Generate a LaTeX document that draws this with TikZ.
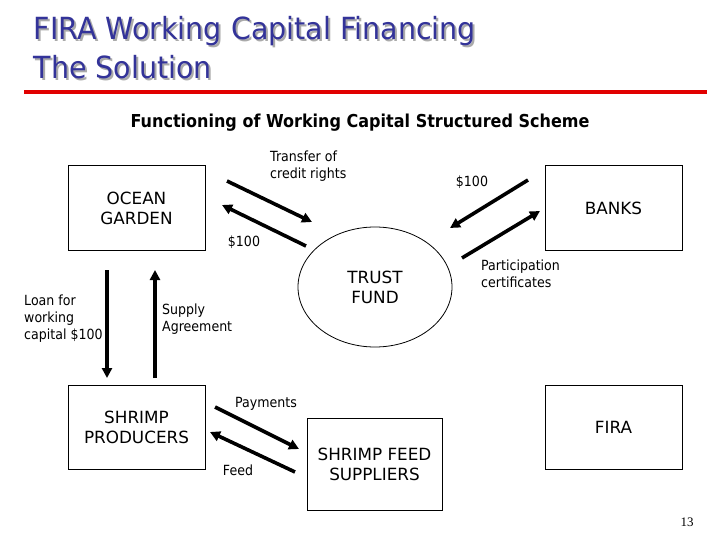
\documentclass[tikz,border=0pt]{standalone}
\usepackage{fontspec}
\setmainfont{DejaVu Sans}[FakeStretch=0.9]
\newfontfamily\boxfont{DejaVu Sans}
\newfontfamily\titlefont{DejaVu Sans}[FakeStretch=0.935]
\newfontfamily\serifnum{Liberation Serif}
\usetikzlibrary{shapes.geometric,arrows.meta}
\definecolor{titleblue}{RGB}{51,51,153}
\definecolor{shadowgray}{RGB}{170,170,170}
\definecolor{rulered}{RGB}{225,0,0}
\newcommand{\shadowtext}[1]{\makebox[0pt][l]{\hspace{2pt}\raisebox{-1.5pt}{\textcolor{shadowgray}{#1}}}\textcolor{titleblue}{#1}}
\tikzset{
  box/.style={draw=black, line width=1pt, minimum width=137pt, minimum height=84pt, align=center, inner sep=0pt, font=\boxfont\fontsize{16.8}{20}\selectfont},
  lbl/.style={align=left, inner sep=0pt, font=\fontsize{14}{17}\selectfont},
  flow/.style={line width=3.6pt, -{Triangle[length=10pt,width=10pt]}},
  ttl/.style={anchor=base west, inner sep=0pt, font=\titlefont\fontsize{30.5}{36}\selectfont}
}
\begin{document}
\begin{tikzpicture}[x=1pt,y=-1pt]
\useasboundingbox (0,0) rectangle (720,540);
\fill[white] (0,0) rectangle (720,540);
% title
\node[ttl] (t1) at (33.5,40) {\shadowtext{FIRA Working Capital Financing}};
\node[ttl] (t2) at (33.5,79) {\shadowtext{The Solution}};
\coordinate (rl) at (24,92);
\coordinate (rr) at (707,92);
\draw[rulered, line width=3.5pt] (rl) -- (rr);
% subtitle
\node[inner sep=0pt, font=\fontsize{17.8}{20}\bfseries\selectfont] (sub) at (360,123) {Functioning of Working Capital Structured Scheme};
% boxes
\node[box] (ocean) at (136.5,208) {OCEAN\\GARDEN};
\node[box] (banks) at (613.5,208) {BANKS};
\node[box] (prod) at (136.5,427) {SHRIMP\\PRODUCERS};
\node[box] (fira) at (613.5,427) {FIRA};
\node[box, minimum width=135pt, minimum height=92pt] (feed) at (374.5,464) {SHRIMP FEED\\SUPPLIERS};
\node[draw=black, line width=0.8pt, ellipse, minimum width=154pt, minimum height=120pt, align=center, inner sep=0pt, font=\boxfont\fontsize{16.8}{20}\selectfont] (trust) at (375,287) {TRUST\\FUND};
% arrow coordinates
\coordinate (a1s) at (227,181); \coordinate (a1e) at (312,222);
\coordinate (a2s) at (306,246); \coordinate (a2e) at (222,205);
\coordinate (a3s) at (528,180); \coordinate (a3e) at (450,228);
\coordinate (a4s) at (462,258); \coordinate (a4e) at (540,211);
\coordinate (a5s) at (107,270); \coordinate (a5e) at (107,378);
\coordinate (a6s) at (155,378); \coordinate (a6e) at (155,270);
\coordinate (a7s) at (215,407); \coordinate (a7e) at (299,449);
\coordinate (a8s) at (295,472); \coordinate (a8e) at (210,432);
\draw[flow] (a1s) -- (a1e);
\draw[flow] (a2s) -- (a2e);
\draw[flow] (a3s) -- (a3e);
\draw[flow] (a4s) -- (a4e);
\draw[flow] (a5s) -- (a5e);
\draw[flow] (a6s) -- (a6e);
\draw[flow] (a7s) -- (a7e);
\draw[flow] (a8s) -- (a8e);
% labels
\node[lbl, anchor=west] (ltrans) at (270,166) {Transfer of\\credit rights};
\node[lbl] (l100a) at (244,242) {\$100};
\node[lbl] (l100b) at (472,182) {\$100};
\node[lbl, anchor=west] (lpart) at (481,274) {Participation\\certificates};
\node[lbl, anchor=west] (lloan) at (24,319) {Loan for\\working\\capital \$100};
\node[lbl, anchor=west] (lsup) at (162,319) {Supply\\Agreement};
\node[lbl] (lpay) at (266,404) {Payments};
\node[lbl] (lfeed) at (238,470) {Feed};
\node[inner sep=0pt, font=\serifnum\fontsize{13}{15}\selectfont] (pg) at (687,522) {13};
\end{tikzpicture}
\end{document}
